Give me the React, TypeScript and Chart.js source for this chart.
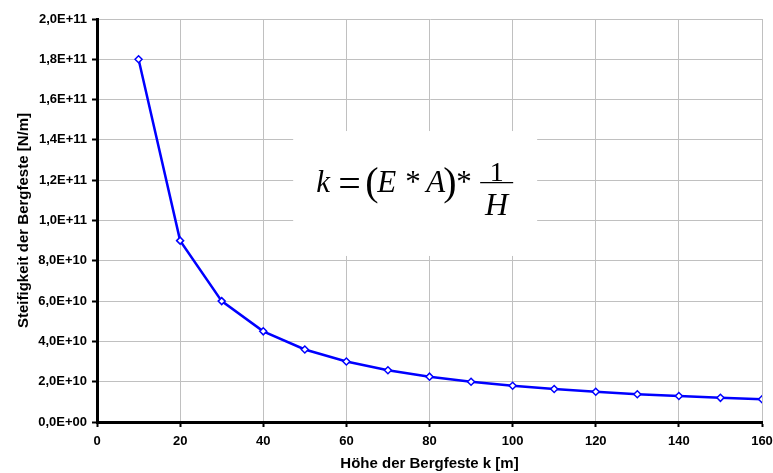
import React, { useEffect, useRef } from "react";
import { Chart, registerables } from "chart.js";

Chart.register(...registerables);

// Pillar height H [m]
const pillarHeights = [10, 20, 30, 40, 50, 60, 70, 80, 90, 100, 110, 120, 130, 140, 150, 160];
// Pillar stiffness k [N/m]
const pillarStiffness = [
  1.8e11, 9.0e10, 6.0e10, 4.5e10, 3.6e10, 3.0e10, 2.57e10, 2.25e10,
  2.0e10, 1.8e10, 1.64e10, 1.5e10, 1.38e10, 1.29e10, 1.2e10, 1.13e10,
];

const xMin = 0;
const xMax = 160;
const xStep = 20;
const yMin = 0;
const yMax = 2.0e11;
const yStep = 2.0e10;

const xTitle = "Höhe der Bergfeste k [m]";
const yTitle = "Steifigkeit der Bergfeste [N/m]";

// Formula panel corners in data units (x: height, y: stiffness)
const formulaBoxX = [47.2, 105.9];
const formulaBoxY = [1.444e11, 0.824e11];

const tickFont = { family: "'Liberation Sans', Arial, sans-serif", weight: "bold" as const, size: 13 };
const titleFont = { family: "'Liberation Sans', Arial, sans-serif", weight: "bold" as const, size: 15 };

// Excel-like scientific notation with decimal comma: 1,8E+11
function sci(v: number): string {
  if (v === 0) return "0,0E+00";
  const e = Math.floor(Math.log10(Math.abs(v)) + 1e-9);
  const m = (v / Math.pow(10, e)).toFixed(1).replace(".", ",");
  return `${m}E+${String(e).padStart(2, "0")}`;
}

// White panel with the stiffness formula k = (E * A) * 1/H
const formulaPlugin = {
  id: "formulaPanel",
  beforeDatasetsDraw(chart: any) {
    const { ctx, scales } = chart;
    const x0 = scales.x.getPixelForValue(formulaBoxX[0]);
    const x1 = scales.x.getPixelForValue(formulaBoxX[1]);
    const y0 = scales.y.getPixelForValue(formulaBoxY[0]);
    const y1 = scales.y.getPixelForValue(formulaBoxY[1]);
    ctx.save();
    ctx.fillStyle = "#ffffff";
    ctx.fillRect(x0, y0, x1 - x0, y1 - y0);

    const serif = "'Liberation Serif', 'Times New Roman', serif";
    const base = y0 + 61;
    ctx.fillStyle = "#000000";
    ctx.textBaseline = "alphabetic";
    ctx.textAlign = "left";

    const put = (text: string, dx: number, font: string, by = base) => {
      ctx.font = font;
      ctx.fillText(text, x0 + dx, by);
    };
    const it = `italic 31px ${serif}`;
    const rm = `31px ${serif}`;
    const eq = `40px ${serif}`;
    const paren = `40px ${serif}`;

    put("k", 23, it);
    put("=", 45, eq, base + 5);
    put("(", 72, paren, base + 3);
    put("E", 84, it);
    put("*", 112, rm);
    put("A", 133, it);
    put(")", 150, paren, base + 3);
    put("*", 163, rm);

    // fraction 1 / H
    const fx0 = x0 + 187;
    const fx1 = x0 + 220;
    const fy = y0 + 51.5;
    ctx.strokeStyle = "#000000";
    ctx.lineWidth = 1.3;
    ctx.beginPath();
    ctx.moveTo(fx0, fy);
    ctx.lineTo(fx1, fy);
    ctx.stroke();
    ctx.textAlign = "center";
    ctx.font = `28px ${serif}`;
    ctx.fillText("1", (fx0 + fx1) / 2, fy - 2);
    ctx.font = `italic 32px ${serif}`;
    ctx.fillText("H", (fx0 + fx1) / 2, fy + 32.5);
    ctx.restore();
  },
};

export default function App() {
  const canvasRef = useRef<HTMLCanvasElement | null>(null);

  useEffect(() => {
    const canvas = canvasRef.current;
    if (!canvas) return;
    const chart = new Chart(canvas, {
      type: "line",
      data: {
        datasets: [
          {
            label: "k",
            data: pillarHeights.map((h, i) => ({ x: h, y: pillarStiffness[i] })),
            borderColor: "#0000ff",
            borderWidth: 2.5,
            pointStyle: "rectRot",
            pointRadius: 3.5,
            pointBackgroundColor: "#ffffff",
            pointBorderColor: "#0000ff",
            pointBorderWidth: 1.5,
            tension: 0,
          },
        ],
      },
      options: {
        responsive: false,
        animation: false,
        layout: { padding: { top: 19, right: 11, left: 0, bottom: 0 } },
        plugins: {
          legend: { display: false },
          tooltip: { enabled: false },
        },
        scales: {
          x: {
            type: "linear",
            min: xMin,
            max: xMax,
            ticks: { stepSize: xStep, color: "#000", font: tickFont, padding: 7, maxRotation: 0 },
            grid: { color: "#c0c0c0", lineWidth: 1, tickColor: "#000", tickLength: 5, tickWidth: 2 },
            border: { color: "#000", width: 3 },
            title: { display: true, text: xTitle, color: "#000", font: titleFont, padding: { top: 1, bottom: 0 } },
            afterFit: (s: any) => {
              s.height = 51;
              s.paddingLeft = 0;
              s.paddingRight = 0;
            },
          },
          y: {
            type: "linear",
            min: yMin,
            max: yMax,
            ticks: { stepSize: yStep, color: "#000", font: tickFont, padding: 5, callback: (v: any) => sci(Number(v)) },
            grid: { color: "#c0c0c0", lineWidth: 1, tickColor: "#000", tickLength: 5, tickWidth: 2 },
            border: { color: "#000", width: 3 },
            title: { display: true, text: yTitle, color: "#000", font: titleFont, padding: { top: 15, bottom: 4 } },
            afterFit: (s: any) => {
              s.width = 97;
              s.paddingTop = 0;
              s.paddingBottom = 0;
            },
          },
        },
      },
      plugins: [formulaPlugin],
    });
    return () => chart.destroy();
  }, []);

  return (
    <div style={{ position: "absolute", left: 0, top: 0, width: 773, height: 473, background: "#fff" }}>
      <canvas ref={canvasRef} width={773} height={473} style={{ display: "block" }} />
    </div>
  );
}
